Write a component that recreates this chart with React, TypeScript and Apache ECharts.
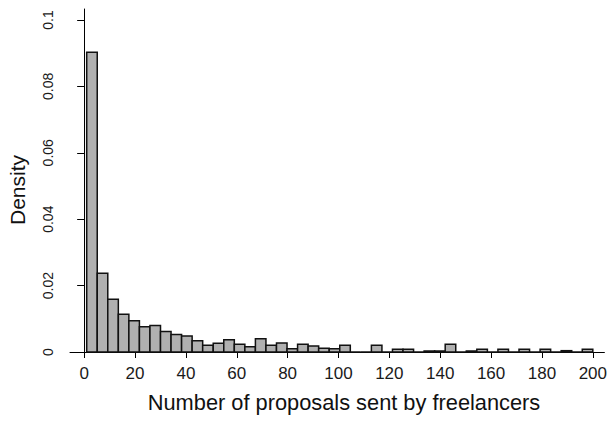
import React, { useEffect, useRef } from "react";
import * as echarts from "echarts";

// Histogram breaks: 48 equal bins from 1 to 200
const BIN_START = 1;
const BIN_END = 200;
const densities = [
  0.0903, 0.0237, 0.0159, 0.0114, 0.0094, 0.0076, 0.008, 0.0062, 0.0053, 0.0048,
  0.0034, 0.002, 0.0026, 0.0037, 0.0023, 0.0016, 0.004, 0.002, 0.0027, 0.001,
  0.0023, 0.0018, 0.0011, 0.001, 0.002, 0, 0, 0.002, 0, 0.0008,
  0.0008, 0, 0.0003, 0.0003, 0.0023, 0, 0.0003, 0.0008, 0, 0.0008,
  0, 0.0008, 0, 0.0008, 0, 0.0004, 0, 0.0008,
];
const xTicks = [0, 20, 40, 60, 80, 100, 120, 140, 160, 180, 200];
const yTicks = [0, 0.02, 0.04, 0.06, 0.08, 0.1];
const yTickLabels = ["0", "0.02", "0.04", "0.06", "0.08", "0.1"];
const xTitle = "Number of proposals sent by freelancers";
const yTitle = "Density";

const FONT = "'Liberation Sans', Arial, Helvetica, sans-serif";

export default function App() {
  const ref = useRef<HTMLDivElement>(null);
  useEffect(() => {
    if (!ref.current) return;
    const chart = echarts.init(ref.current, null, { renderer: "svg" });
    const binWidth = (BIN_END - BIN_START) / densities.length;
    const data = densities.map((d, i) => [
      BIN_START + i * binWidth,
      BIN_START + (i + 1) * binWidth,
      d,
    ]);
    chart.setOption({
      animation: false,
      backgroundColor: "#ffffff",
      grid: { left: 70, right: 0, top: 9, bottom: 73, containLabel: false },
      xAxis: {
        type: "value",
        min: -5.564,
        max: 204.55,
        splitLine: { show: false },
        axisLine: { show: true, onZero: false, lineStyle: { color: "#000", width: 1 } },
        axisTick: {
          show: true,
          customValues: xTicks,
          length: 6,
          lineStyle: { color: "#000", width: 1 },
        },
        axisLabel: {
          customValues: xTicks,
          fontSize: 17,
          fontFamily: FONT,
          color: "#1a1a1a",
          margin: 13,
        },
      },
      yAxis: {
        type: "value",
        min: 0,
        max: 0.1033,
        splitLine: { show: false },
        axisLine: { show: true, lineStyle: { color: "#000", width: 1 } },
        axisTick: {
          show: true,
          customValues: yTicks,
          length: 7,
          lineStyle: { color: "#000", width: 1 },
        },
        axisLabel: {
          customValues: yTicks,
          rotate: 90,
          fontSize: 14,
          fontFamily: FONT,
          color: "#1a1a1a",
          margin: 15,
          formatter: (v: number) => {
            const idx = yTicks.findIndex((t) => Math.abs(t - v) < 1e-9);
            return idx >= 0 ? yTickLabels[idx] : "";
          },
        },
      },
      graphic: [
        {
          type: "text",
          x: 344,
          y: 402,
          style: {
            text: xTitle,
            fontSize: 21.8,
            fontFamily: FONT,
            fill: "#111",
            align: "center",
            verticalAlign: "middle",
          },
        },
        {
          type: "text",
          x: 17,
          y: 190,
          rotation: Math.PI / 2,
          style: {
            text: yTitle,
            fontSize: 21,
            fontFamily: FONT,
            fill: "#111",
            align: "center",
            verticalAlign: "middle",
          },
        },
      ],
      series: [
        {
          type: "custom",
          data,
          encode: { x: [0, 1], y: 2 },
          renderItem: (params: any, api: any) => {
            const x0 = api.value(0);
            const x1 = api.value(1);
            const y = api.value(2);
            const p0 = api.coord([x0, y]);
            const p1 = api.coord([x1, 0]);
            return {
              type: "rect",
              shape: { x: p0[0], y: p0[1], width: p1[0] - p0[0], height: p1[1] - p0[1] },
              style: { fill: "#b0b0b0", stroke: "#111", lineWidth: 1.5 },
            };
          },
        },
      ],
    });
    return () => chart.dispose();
  }, []);
  return (
    <div
      ref={ref}
      style={{ position: "absolute", left: 0, top: 0, width: 610, height: 425, overflow: "hidden" }}
    />
  );
}
